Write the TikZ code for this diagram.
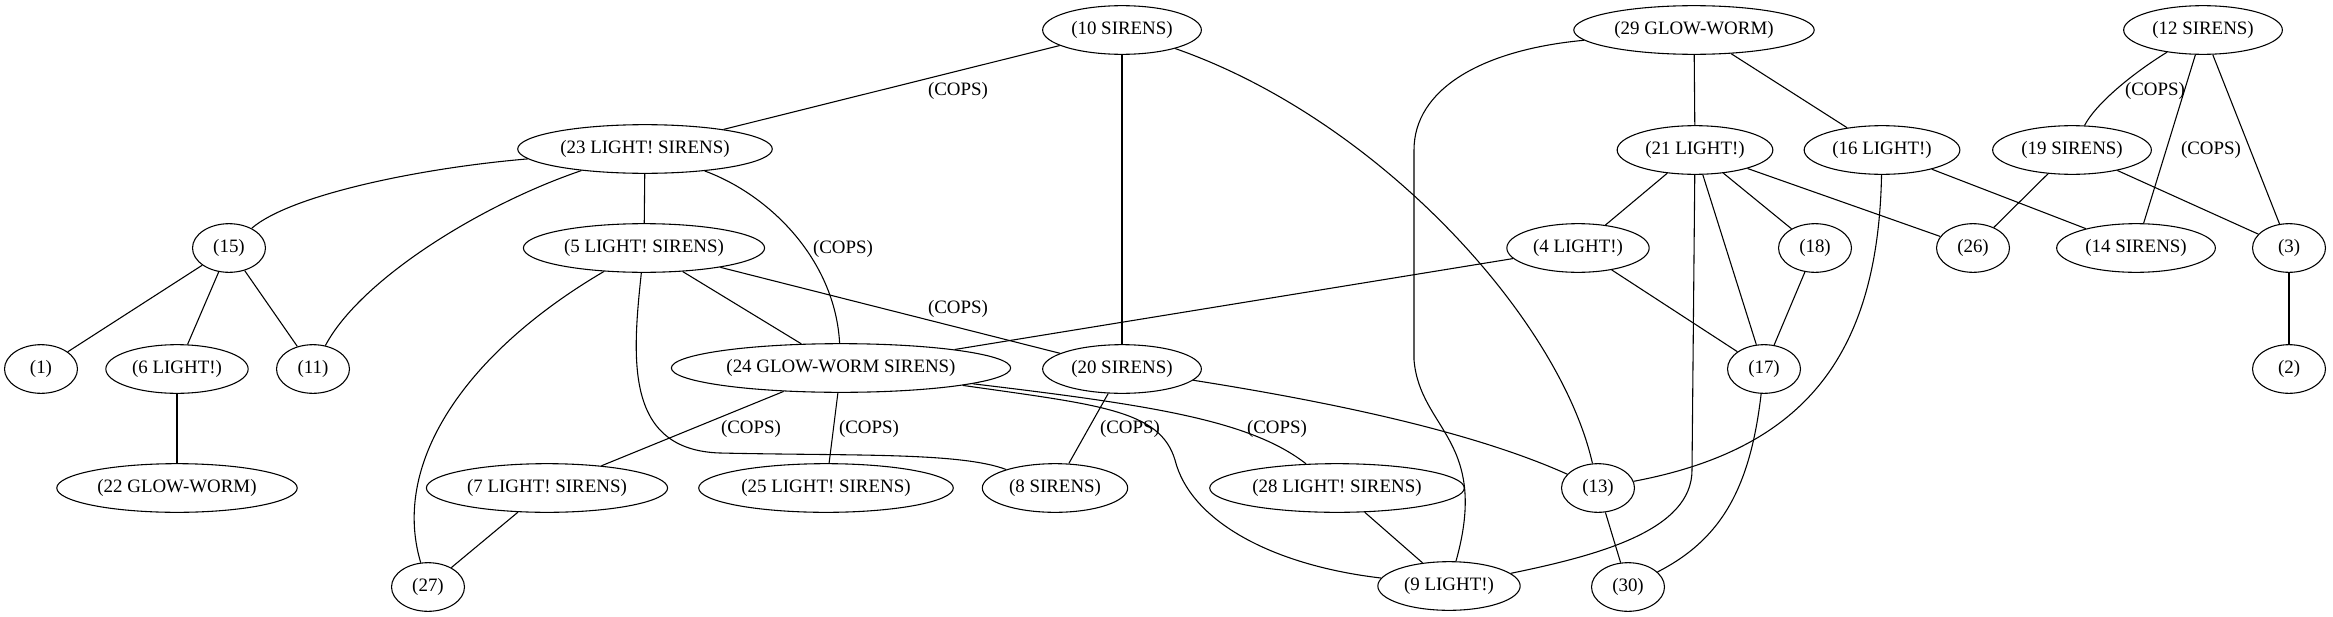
\documentclass[tikz,border=0pt]{standalone}
\usepackage{fontspec}
\setmainfont{Liberation Serif}
\usetikzlibrary{shapes.geometric}

\begin{document}
\begin{tikzpicture}[x=0.74pt,y=-0.74pt,
    vertex/.style={draw,ellipse,line width=0.8pt,inner xsep=4pt,inner ysep=2pt,
                   minimum width=54pt,minimum height=36pt,font=\fontsize{14}{16}\selectfont},
    copslbl/.style={inner sep=0pt,font=\fontsize{14}{16}\selectfont},
    link/.style={line width=0.8pt}]
  \useasboundingbox (0,0) rectangle (2333,616);

  % top rank
  \node[vertex] (n10) at (1122,30) {(10 SIRENS)};
  \node[vertex] (n29) at (1694,30) {(29 GLOW-WORM)};
  \node[vertex] (n12) at (2203,30) {(12 SIRENS)};
  % second rank
  \node[vertex] (n23) at (645,149) {(23 LIGHT! SIRENS)};
  \node[vertex] (n21) at (1695,150) {(21 LIGHT!)};
  \node[vertex] (n16) at (1882,150) {(16 LIGHT!)};
  \node[vertex] (n19) at (2072,150) {(19 SIRENS)};
  % third rank
  \node[vertex] (n15) at (229,248) {(15)};
  \node[vertex] (n5)  at (644,248) {(5 LIGHT! SIRENS)};
  \node[vertex] (n4)  at (1578,248) {(4 LIGHT!)};
  \node[vertex] (n18) at (1815,248) {(18)};
  \node[vertex] (n26) at (1973,248) {(26)};
  \node[vertex] (n14) at (2136,248) {(14 SIRENS)};
  \node[vertex] (n3)  at (2289,248) {(3)};
  % fourth rank
  \node[vertex] (n1)  at (41,369) {(1)};
  \node[vertex] (n6)  at (177,369) {(6 LIGHT!)};
  \node[vertex] (n11) at (313,369) {(11)};
  \node[vertex] (n24) at (841,368) {(24 GLOW-WORM SIRENS)};
  \node[vertex] (n20) at (1122,369) {(20 SIRENS)};
  \node[vertex] (n17) at (1764,369) {(17)};
  \node[vertex] (n2)  at (2289,369) {(2)};
  % fifth rank
  \node[vertex] (n22) at (177,488) {(22 GLOW-WORM)};
  \node[vertex] (n7)  at (547,488) {(7 LIGHT! SIRENS)};
  \node[vertex] (n25) at (826,488) {(25 LIGHT! SIRENS)};
  \node[vertex] (n8)  at (1055,488) {(8 SIRENS)};
  \node[vertex] (n28) at (1337,488) {(28 LIGHT! SIRENS)};
  \node[vertex] (n13) at (1598,488) {(13)};
  % bottom rank
  \node[vertex] (n27) at (428,587) {(27)};
  \node[vertex] (n9)  at (1449,586) {(9 LIGHT!)};
  \node[vertex] (n30) at (1628,587) {(30)};

  % edge labels
  \node[copslbl] (c10x23) at (958,91)   {(COPS)};
  \node[copslbl] (c23x24) at (843,249)  {(COPS)};
  \node[copslbl] (c5x20)  at (958,309)  {(COPS)};
  \node[copslbl] (c24x7)  at (751,429)  {(COPS)};
  \node[copslbl] (c24x25) at (869,429)  {(COPS)};
  \node[copslbl] (c20x8)  at (1130,429) {(COPS)};
  \node[copslbl] (c24x28) at (1277,429) {(COPS)};
  \node[copslbl] (c12x19) at (2155,91)  {(COPS)};
  \node[copslbl] (c12x14) at (2211,150) {(COPS)};

  % straight edges
  \foreach \a/\b in {n10/n23,n10/n20,n29/n21,n29/n16,n12/n14,n12/n3,
                     n23/n5,n21/n4,n21/n17,n21/n18,n21/n26,n16/n14,n19/n26,n19/n3,
                     n15/n1,n15/n6,n15/n11,n5/n24,n5/n20,n4/n24,n4/n17,n18/n17,n3/n2,
                     n6/n22,n24/n7,n24/n25,n20/n8,n7/n27,n28/n9,n13/n30}
    \draw[link] (\a) -- (\b);

  % curved edges
  \draw[link] (n23) .. controls (420,168) and (290,195) .. (n15);
  \draw[link] (n23) .. controls (480,205) and (360,280) .. (n11);
  \draw[link] (n23) .. controls (770,195) and (835,260) .. (n24);
  \draw[link] (n5) .. controls (470,350) and (390,460) .. (n27);
  \draw[link] (n5) .. controls (632,360) and (625,450) .. (720,453)
                   .. controls (850,456) and (960,452) .. (n8);
  \draw[link] (n24) .. controls (1100,405) and (1160,410) .. (1175,460)
                    .. controls (1190,520) and (1270,565) .. (n9);
  \draw[link] (n24) .. controls (1150,405) and (1250,420) .. (n28);
  \draw[link] (n20) .. controls (1350,405) and (1480,435) .. (n13);
  \draw[link] (n10) .. controls (1380,120) and (1560,320) .. (n13);
  \draw[link] (n29) .. controls (1480,50) and (1414,90) .. (1414,150)
                    -- (1414,360) .. controls (1420,430) and (1490,440) .. (n9);
  \draw[link] (n21) -- (1692,470) .. controls (1692,530) and (1600,555) .. (n9);
  \draw[link] (n16) .. controls (1878,360) and (1800,450) .. (n13);
  \draw[link] (n17) .. controls (1750,490) and (1720,540) .. (n30);
  \draw[link] (n12) .. controls (2130,75) and (2095,105) .. (n19);
\end{tikzpicture}
\end{document}
